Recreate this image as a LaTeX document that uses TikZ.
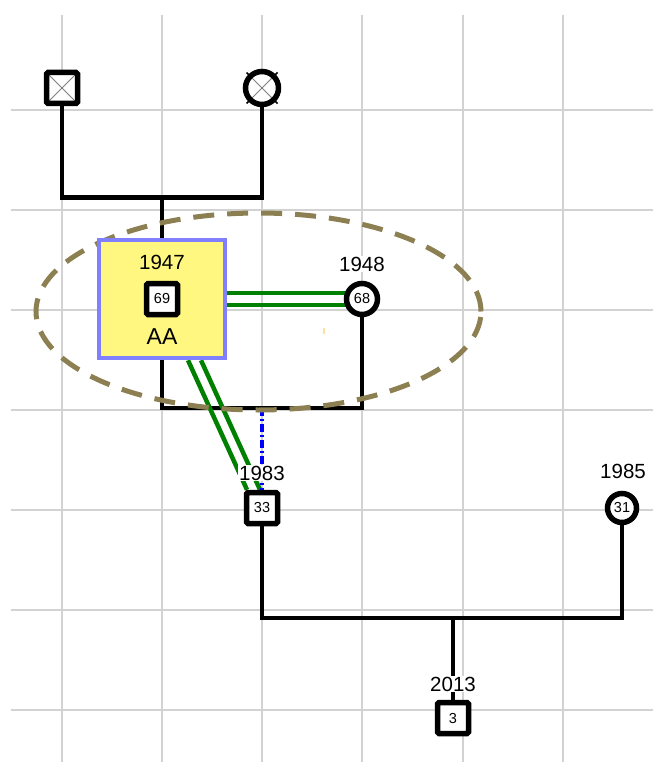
\documentclass[tikz,border=0pt]{standalone}
\usepackage{fontspec}
\setmainfont{Liberation Sans}
\pgfdeclarelayer{bg}
\pgfsetlayers{bg,main}
\definecolor{gridc}{RGB}{210,210,210}
\definecolor{olivec}{RGB}{140,128,82}
\definecolor{aafill}{RGB}{255,247,128}
\definecolor{aaborder}{RGB}{128,128,255}
\definecolor{linkgreen}{RGB}{0,128,0}
\definecolor{markc}{RGB}{255,224,160}
\tikzset{
  gridline/.style={draw=gridc, line width=2pt},
  rel/.style={draw=black, line width=4.5pt},
  greenline/.style={draw=linkgreen, line width=4.5pt},
  bluedash/.style={draw=blue, line width=3.5pt, dash pattern=on 8pt off 3pt on 2pt off 3pt},
  ellline/.style={draw=olivec, line width=5pt, dash pattern=on 21pt off 13pt},
  sqbox/.style={rectangle, draw, line width=5.5pt, minimum size=31pt, rounded corners=1.5pt, fill=white, inner sep=0pt, font=\fontsize{14.5}{14.5}\selectfont},
  circbox/.style={circle, draw, line width=5.5pt, minimum size=31pt, fill=white, inner sep=0pt, font=\fontsize{14.5}{14.5}\selectfont},
  yearlbl/.style={fill=white, inner sep=1pt, font=\fontsize{20.5}{20.5}\selectfont},
  xcross/.style={path picture={\draw[gray, line width=1pt] (path picture bounding box.north west) -- (path picture bounding box.south east) (path picture bounding box.north east) -- (path picture bounding box.south west);}},
}
\begin{document}
\begin{tikzpicture}[x=1pt, y=-1pt]
\useasboundingbox (0,0) rectangle (653,762);
% nodes
\node[sqbox, xcross] (fa) at (62,88) {};
\node[circbox, xcross, minimum size=33pt] (mo) at (262,88) {};
\node[rectangle, draw=aaborder, fill=aafill, line width=4.5pt, minimum width=126pt, minimum height=118pt] (aa) at (162,299) {};
\node[yearlbl, fill=none] (y47) at (162,262) {1947};
\node[sqbox] (s69) at (162,299) {69};
\node[font=\fontsize{23}{23}\selectfont] (aalbl) at (162,337) {AA};
\node[circbox] (wi) at (362,299) {68};
\node[yearlbl] (y48) at (362,264) {1948};
\node[sqbox] (s33) at (262,508) {33};
\node[yearlbl] (y83) at (262,473) {1983};
\node[circbox, minimum size=29pt] (c31) at (622,508) {31};
\node[yearlbl] (y85) at (623,471) {1985};
\node[sqbox] (s3) at (453,718) {3};
\node[yearlbl] (y13) at (453,684) {2013};
\coordinate (pc) at (162,197.5);
\coordinate (m1) at (262,408);
\coordinate (m2) at (453,618);
% ticks of the mother's cross
\foreach \dx/\dy in {1/1,1/-1,-1/1,-1/-1}
  \draw[black, line width=1.5pt] ([shift={(\dx*12.5pt,\dy*12.5pt)}]mo.center) -- ([shift={(\dx*15.5pt,\dy*15.5pt)}]mo.center);
\begin{pgfonlayer}{bg}
  \foreach \x in {62,162,262,362,463,563}
    \draw[gridline] (\x,15) -- (\x,762);
  \foreach \y in {110,210,310,410,510,610,710}
    \draw[gridline] (11,\y) -- (653,\y);
  % connectors
  \draw[rel] (fa.south) |- (pc) -| (mo.south);
  \draw[rel] (pc) -- (aa.north);
  \draw[rel] (aa.south) |- (m1) -| (wi.south);
  \draw[greenline] ([yshift=6pt]aa.east) -- ([yshift=6pt]aa.east -| wi.center);
  \draw[greenline] ([yshift=-6pt]aa.east) -- ([yshift=-6pt]aa.east -| wi.center);
  \draw[greenline] ([xshift=26pt]aa.south) -- ([xshift=-15pt]s33.north);
  \draw[greenline] ([xshift=39pt]aa.south) -- ([xshift=-2pt]s33.north);
  \draw[bluedash] (m1) -- (s33.north);
  \draw[rel] (s33.south) |- (m2) -| (c31.south);
  \draw[rel] (m2) -- (s3.north);
  \draw[ellline] (258.5,311.5) ellipse [x radius=222.5pt, y radius=98.5pt];
  \draw[draw=markc, line width=2pt] (324,328) -- (324,334);
\end{pgfonlayer}
\end{tikzpicture}
\end{document}
